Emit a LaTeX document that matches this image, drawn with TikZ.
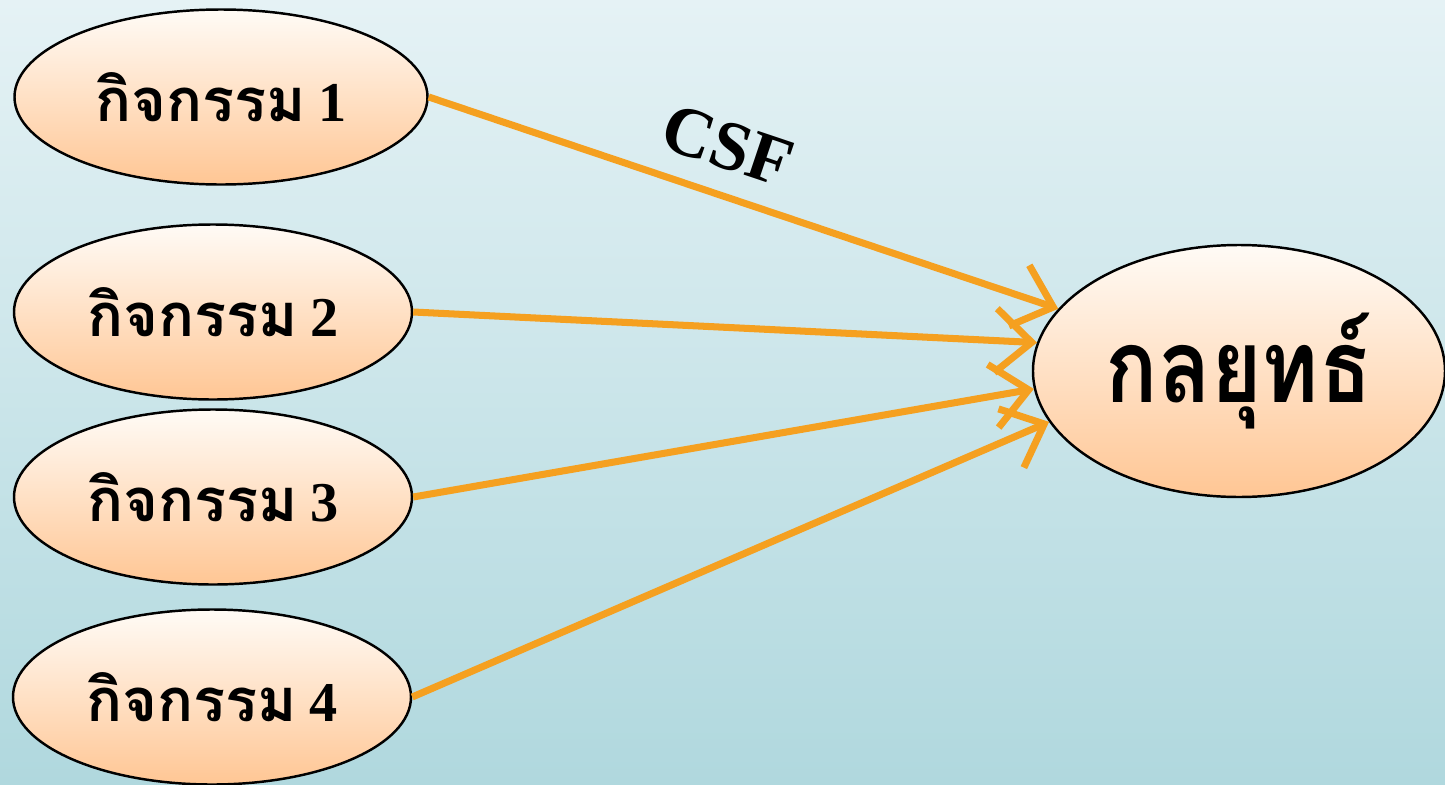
\documentclass[tikz,border=0pt]{standalone}
\usepackage{fontspec}
\usetikzlibrary{shapes.geometric, arrows.meta}
\newfontfamily\thaifont[Script=Thai]{Loma}
\newfontfamily\thainarrow[Script=Thai, FakeStretch=0.85]{Loma}
\newfontfamily\numfont{Liberation Serif}

\begin{document}
\begin{tikzpicture}[
	activity/.style={ellipse, draw=black, line width=.7pt, top color=peachtop, bottom color=peachbot, inner sep=0pt, minimum width=3.98cm, minimum height=1.75cm, font=\thaifont\bfseries\fontsize{17}{20}\selectfont},
	goalbox/.style={activity, minimum width=4.12cm, minimum height=2.52cm, font=\thainarrow\bfseries\fontsize{29}{34}\selectfont},
	link/.style={draw=arroworange, line width=2pt, -{Straight Barb[length=3.6mm, width=6.4mm, line width=2pt]}}
	]
	\definecolor{bgtop}{RGB}{229, 242, 245}
	\definecolor{bgbot}{RGB}{176, 216, 222}
	\definecolor{peachtop}{RGB}{255, 251, 246}
	\definecolor{peachbot}{RGB}{255, 198, 148}
	\definecolor{arroworange}{RGB}{245, 160, 32}
	
	% \act#label#number
	\def\act#1#2{#1\hspace{.2em}{\numfont\bfseries\fontsize{16}{20}\selectfont #2}}
	
	% background
	\fill[top color=bgtop, bottom color=bgbot] (0, 0) rectangle (14.45, 7.84);
	\useasboundingbox (0, 0) rectangle (14.45, 7.84);
	
	% diagram
	\node[activity, minimum width=4.13cm] (act1) at (2.21, 6.87) {\act{กิจกรรม}{1}};
	\node[activity] (act2) at (2.13, 4.72) {\act{กิจกรรม}{2}};
	\node[activity] (act3) at (2.13, 2.87) {\act{กิจกรรม}{3}};
	\node[activity] (act4) at (2.12, 0.87) {\act{กิจกรรม}{4}};
	\node[goalbox] (goal) at (12.39, 4.13) {กลยุทธ์};
	
	\draw[link] (act1.east) -- (goal.161) node[pos=.45, above, sloped, font=\numfont\bfseries\fontsize{20}{24}\selectfont, yshift=3pt] {CSF};
	\draw[link] (act2.east) -- (goal.172);
	\draw[link] (act3.east) -- (goal.185);
	\draw[link] (act4.east) -- (goal.195);
\end{tikzpicture}
\end{document}
